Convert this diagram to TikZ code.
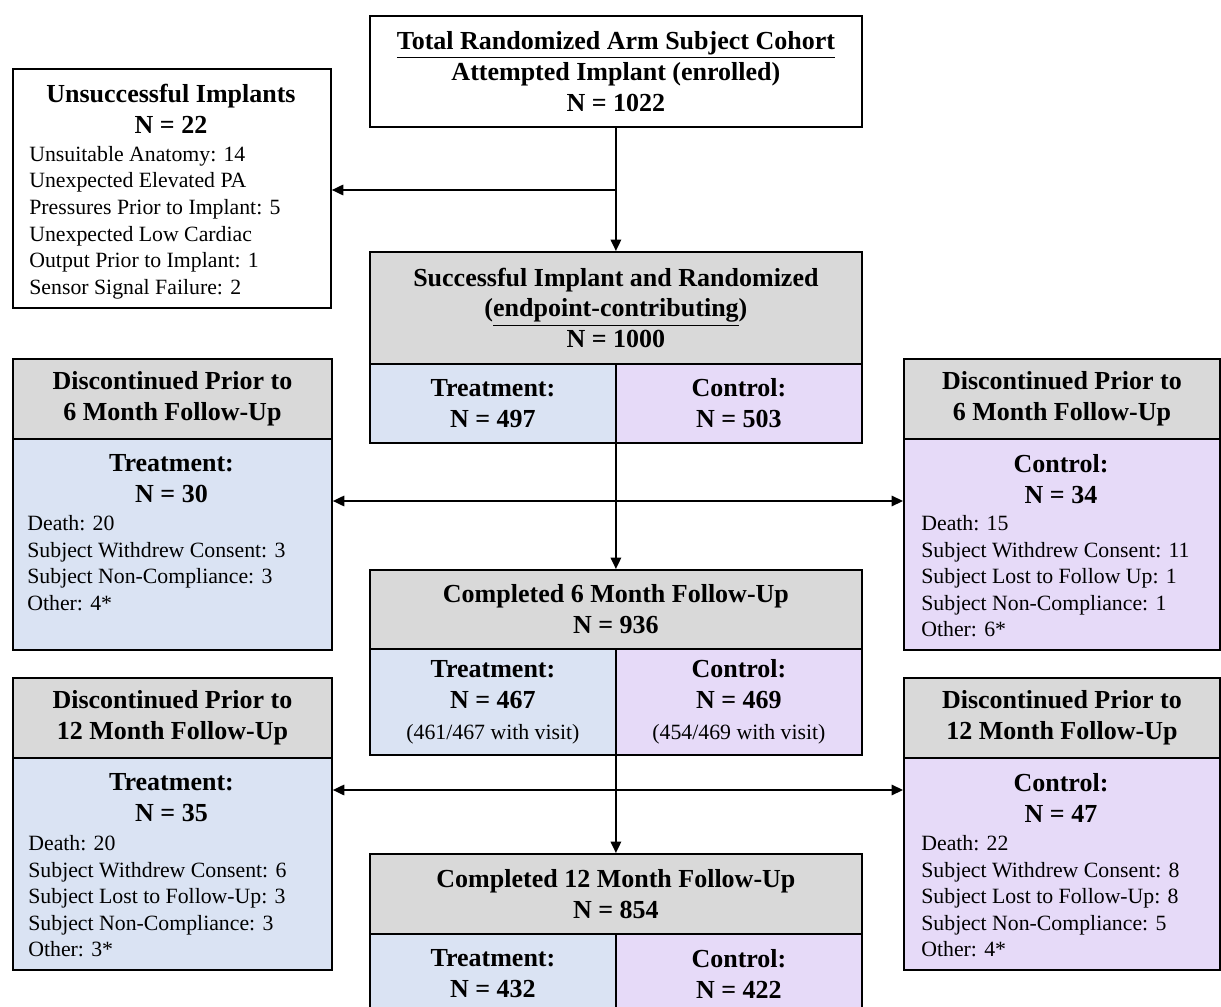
\documentclass[tikz,border=0pt]{standalone}
\usepackage{fontspec}
\setmainfont{Liberation Serif}
\usetikzlibrary{arrows.meta}
\definecolor{headgray}{HTML}{D9D9D9}
\definecolor{treatblue}{HTML}{DAE3F3}
\definecolor{ctrlpurple}{HTML}{E6DAF8}
\newcommand{\headfont}{\fontsize{14.8}{17.6}\selectfont\bfseries}
\newcommand{\bodyfont}{\fontsize{12.4}{15.1}\selectfont}

\begin{document}
\begin{tikzpicture}[x=0.02cm,y=-0.02cm,
	>={Triangle[length=6.5pt,width=6pt]},
	box/.style={draw, line width=1.1pt, anchor=north west, inner sep=0pt, align=center, font=\headfont},
	head/.style={box, fill=headgray},
	treat/.style={box, fill=treatblue},
	ctrl/.style={box, fill=ctrlpurple},
	title/.style={align=center, font=\headfont, inner sep=0pt},
	list/.style={align=left, font=\bodyfont, anchor=north west, inner sep=0pt},
	arr/.style={line width=0.9pt, ->}]
		\clip (0,0) rectangle (1221,1007);

		\node[box, minimum width=9.84cm, minimum height=2.22cm] (total) at (369,15) {\underline{Total Randomized Arm Subject Cohort}\\Attempted Implant (enrolled)\\N = 1022};

		\node[box, minimum width=6.36cm, minimum height=4.78cm] (fail) at (12,68) {};
		\node[title] (failt) at (171,109) {Unsuccessful Implants\\N = 22};
		\node[list] (faill) at (29,146) {Unsuitable Anatomy: 14\\Unexpected Elevated PA\\Pressures Prior to Implant: 5\\Unexpected Low Cardiac\\Output Prior to Implant: 1\\Sensor Signal Failure: 2};

		\node[head, minimum width=9.84cm, minimum height=2.24cm] (succ) at (369,251) {Successful Implant and Randomized\\(\underline{endpoint-contributing})\\N = 1000};
		\node[treat, minimum width=4.92cm, minimum height=1.58cm] (succt) at (369,363) {Treatment:\\N = 497};
		\node[ctrl, minimum width=4.92cm, minimum height=1.58cm] (succc) at (615,363) {Control:\\N = 503};

		\node[head, minimum width=6.38cm, minimum height=1.6cm] (d6lh) at (12,358) {Discontinued Prior to\\6 Month Follow-Up};
		\node[treat, minimum width=6.38cm, minimum height=4.22cm] (d6l) at (12,438) {};
		\node[title] (d6lt) at (171.5,479) {Treatment:\\N = 30};
		\node[list] (d6ll) at (27,515) {Death: 20\\Subject Withdrew Consent: 3\\Subject Non-Compliance: 3\\Other: 4*};

		\node[head, minimum width=6.32cm, minimum height=1.6cm] (d6rh) at (903,358) {Discontinued Prior to\\6 Month Follow-Up};
		\node[ctrl, minimum width=6.32cm, minimum height=4.22cm] (d6r) at (903,438) {};
		\node[title] (d6rt) at (1061,479) {Control:\\N = 34};
		\node[list] (d6rl) at (921,515) {Death: 15\\Subject Withdrew Consent: 11\\Subject Lost to Follow Up: 1\\Subject Non-Compliance: 1\\Other: 6*};

		\node[head, minimum width=9.84cm, minimum height=1.58cm] (comp6) at (369,569) {Completed 6 Month Follow-Up\\N = 936};
		\node[treat, minimum width=4.92cm, minimum height=2.12cm] (c6t) at (369,648) {Treatment:\\N = 467\\{\bodyfont\mdseries (461/467 with visit)}};
		\node[ctrl, minimum width=4.92cm, minimum height=2.12cm] (c6c) at (615,648) {Control:\\N = 469\\{\bodyfont\mdseries (454/469 with visit)}};

		\node[head, minimum width=6.38cm, minimum height=1.6cm] (d12lh) at (12,677) {Discontinued Prior to\\12 Month Follow-Up};
		\node[treat, minimum width=6.38cm, minimum height=4.24cm] (d12l) at (12,757) {};
		\node[title] (d12lt) at (171.5,798) {Treatment:\\N = 35};
		\node[list] (d12ll) at (28,835) {Death: 20\\Subject Withdrew Consent: 6\\Subject Lost to Follow-Up: 3\\Subject Non-Compliance: 3\\Other: 3*};

		\node[head, minimum width=6.32cm, minimum height=1.6cm] (d12rh) at (903,677) {Discontinued Prior to\\12 Month Follow-Up};
		\node[ctrl, minimum width=6.32cm, minimum height=4.24cm] (d12r) at (903,757) {};
		\node[title] (d12rt) at (1061,798) {Control:\\N = 47};
		\node[list] (d12rl) at (921,835) {Death: 22\\Subject Withdrew Consent: 8\\Subject Lost to Follow-Up: 8\\Subject Non-Compliance: 5\\Other: 4*};

		\node[head, minimum width=9.84cm, minimum height=1.6cm] (comp12) at (369,853) {Completed 12 Month Follow-Up\\N = 854};
		\node[treat, minimum width=4.92cm, minimum height=1.6cm] (c12t) at (369,933) {Treatment:\\N = 432};
		\node[ctrl, minimum width=4.92cm, minimum height=1.6cm] (c12c) at (615,933) {Control:\\N = 422};

		\coordinate (j1) at (615,190);
		\coordinate (j2) at (615,501);
		\coordinate (j3) at (615,790);
		\draw[arr] (total) -- (succ);
		\draw[arr] (j1) -- (j1 -| fail.east);
		\draw[arr] (comp6.north |- succt.south) -- (comp6.north);
		\draw[arr, <->] (j2 -| d6l.east) -- (j2 -| d6r.west);
		\draw[arr] (comp12.north |- c6t.south) -- (comp12.north);
		\draw[arr, <->] (j3 -| d12l.east) -- (j3 -| d12r.west);
	\end{tikzpicture}
\end{document}
